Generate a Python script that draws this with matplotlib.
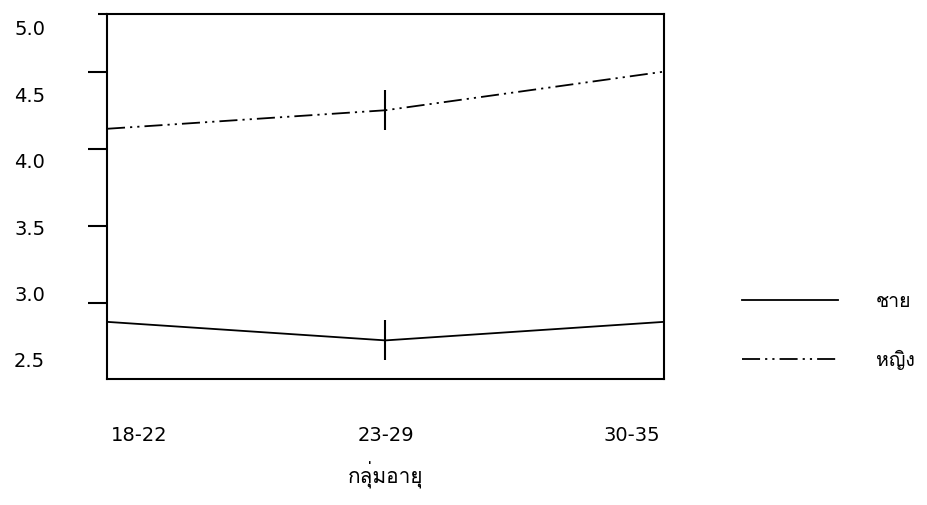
import matplotlib
matplotlib.use("Agg")
import matplotlib.pyplot as plt
import numpy as np
from matplotlib import font_manager
from matplotlib.ft2font import FT2Font

# datos
grupos = ["18-22", "23-29", "30-35"]
hombres = [2.88, 2.76, 2.88]
mujeres = [4.13, 4.25, 4.50]
series_labels = ["ชาย", "หญิง"]
ytick_labels = ["5.0", "4.5", "4.0", "3.5", "3.0", "2.5"]
titulo_x = "กลุ่มอายุ"


# buscar una fuente que tenga letras tailandesas
def fuente_thai():
    for f in font_manager.fontManager.ttflist:
        try:
            if 0x0E0A in FT2Font(f.fname).get_charmap():
                return f.name
        except Exception:
            pass
    return "DejaVu Sans"


thai = fuente_thai()
plt.rcParams["font.family"] = [thai, "DejaVu Sans"]
FS = 14

fig = plt.figure(figsize=(9.28, 5.06), dpi=100)
ax = fig.add_axes([0.1153, 0.249, 0.6002, 0.721])

x = np.arange(len(grupos))
dashdot = (0, (10, 2.8, 1.2, 2.8, 1.2, 2.8))
l1, = ax.plot(x, hombres, color="black", lw=1.3, solid_joinstyle="miter")
l2, = ax.plot(x, mujeres, color="black", lw=1.3, linestyle=dashdot)
# marcas verticales en el punto central
ax.plot(x[1], hombres[1], marker="|", ms=29, mew=1.5, color="black")
ax.plot(x[1], mujeres[1], marker="|", ms=29, mew=1.5, color="black")

ax.set_xlim(0, 2)
ax.set_ylim(2.51, 4.872)

for s in ax.spines.values():
    s.set_linewidth(1.5)
# pequena prolongacion del borde superior
ax.plot([-0.016, 0], [1, 1], transform=ax.transAxes, color="black",
        lw=1.5, clip_on=False, solid_capstyle="butt")

# marcas del eje y (sin etiqueta) y etiquetas desplazadas como en el original
ax.yaxis.remove_overlapping_locs = False
ax.set_yticks([3.0, 3.5, 4.0, 4.5])
ax.set_yticklabels([])
ax.tick_params(axis="y", which="major", length=14, width=1.5, direction="out")
ax.set_yticks(np.linspace(4.79, 2.64, len(ytick_labels)), minor=True)
ax.set_yticklabels(ytick_labels, minor=True, fontsize=FS, family="DejaVu Sans")
ax.tick_params(axis="y", which="minor", length=0, pad=44.5)

ax.set_xticks(np.linspace(0.115, 1.885, len(grupos)))
ax.set_xticklabels(grupos, fontsize=FS, family="DejaVu Sans")
ax.tick_params(axis="x", length=0, pad=33)
ax.set_xlabel(titulo_x, fontsize=FS + 1, labelpad=12)

fig.legend([l1, l2], series_labels, loc="center left",
           bbox_to_anchor=(0.7996, 0.344), frameon=False, fontsize=FS,
           borderaxespad=0, borderpad=0, handlelength=4.95,
           handletextpad=1.95, labelspacing=2.0)

fig.savefig("out.png", dpi=100)
